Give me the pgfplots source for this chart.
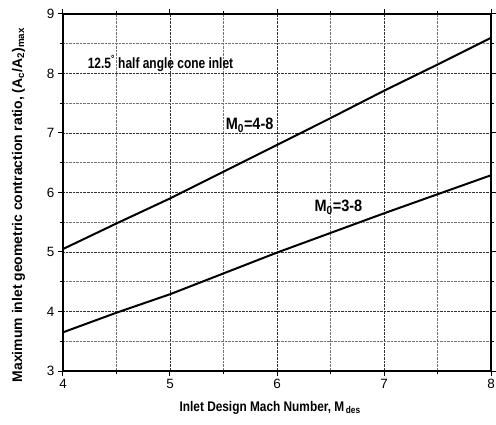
\documentclass[border=0pt]{standalone}
\usepackage{fontspec}
\setmainfont{Liberation Sans}
\usepackage{pgfplots}
\pgfplotsset{compat=1.18}
\usetikzlibrary{calc}
\begin{document}
\begin{tikzpicture}
\begin{axis}[
  name=ax,
  scale only axis,
  width=428bp, height=357bp,
  xmin=4, xmax=8, ymin=3, ymax=9,
  xtick={4,5,6,7,8}, ytick={3,4,5,6,7,8,9},
  minor tick num=1,
  tick align=outside,
  major tick length=5bp, minor tick length=3bp,
  tick style={black, line width=1bp},
  axis line style={line width=1.2bp},
  grid=both,
  major grid style={black!80, densely dotted, line width=0.6bp},
  minor grid style={black!55, densely dotted, line width=0.6bp},
  /pgf/number format/assume math mode=true,
  ticklabel style={font=\fontsize{13.5}{15}\selectfont},
  xlabel={\textbf{Inlet Design Mach Number, M\textsubscript{\,des}}},
  ylabel={\textbf{Maximum inlet geometric contraction ratio, (A\textsubscript{c}/A\textsubscript{2})\textsubscript{max}}},
  xlabel style={font=\fontsize{14}{16}\selectfont\addfontfeatures{FakeStretch=0.85}, at={(axis description cs:0.484,-0.104)}, anchor=center},
  ylabel style={font=\fontsize{14}{16}\selectfont, at={(axis description cs:-0.104,0.465)}, anchor=center},
  clip=true,
]
\addplot[black, line width=2bp] coordinates {(4,5.05) (4.5,5.48) (5,5.9) (5.5,6.35) (6,6.8) (6.5,7.25) (7,7.71) (7.5,8.15) (8,8.6)};
\addplot[black, line width=2bp] coordinates {(4,3.65) (4.5,3.98) (5,4.29) (5.5,4.64) (6,4.99) (6.5,5.32) (7,5.65) (7.5,5.97) (8,6.29)};
\node[anchor=west, font=\bfseries\fontsize{15}{17}\selectfont\addfontfeatures{FakeStretch=0.8}, inner sep=0pt] at (axis cs:4.23,8.17) {12.5\textsuperscript{°} half angle cone inlet};
\node[anchor=west, font=\bfseries\fontsize{16.5}{18}\selectfont\addfontfeatures{FakeStretch=0.88}, inner sep=0pt] at (axis cs:5.52,7.13) {M\textsubscript{0}=4-8};
\node[anchor=west, font=\bfseries\fontsize{16.5}{18}\selectfont\addfontfeatures{FakeStretch=0.88}, inner sep=0pt] at (axis cs:6.35,5.75) {M\textsubscript{0}=3-8};
\end{axis}
\pgfresetboundingbox
\path[use as bounding box] ($(ax.south west)+(-63bp,-54bp)$) rectangle ($(ax.north east)+(5bp,14bp)$);
\end{tikzpicture}
\end{document}
